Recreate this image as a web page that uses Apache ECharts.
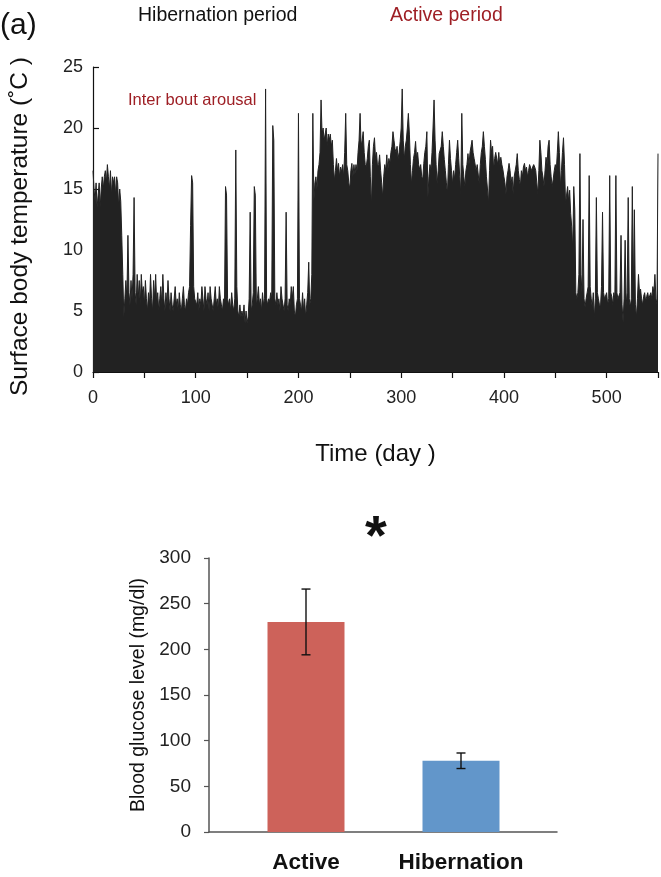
<!DOCTYPE html>
<html>
<head>
<meta charset="utf-8">
<script src="https://cdn.jsdelivr.net/npm/echarts@6/dist/echarts.min.js"></script>
<style>
html,body{margin:0;padding:0;background:#fff;}
#chart{width:661px;height:877px;}
</style>
</head>
<body>
<div id="chart"></div>
<script>
// ---- Panel (a): surface body temperature per day (days 0..550) ----
var tempDays0 = [16.5,15,14,15.5,13.5,14.5,15.5,13.5,15,16, 15,16,16.5,15.5,17,16,15,16.5,14.5,16,
  15.5,16,14.5,16,15.5,13.5,15,14,11.2,8, 4.5,6,7.5,6,11.2,6.5,5.5,7.5,6,8,
  14.3,6.5,5.5,8,6,7.5,5.5,8,6.5,7, 5.5,7.5,6,5,6.5,5.5,8,6,5,7.5,
  6,8,5.5,6.5,5,6,7,5.5,8,6, 5,6.5,5.5,7.5,6,5,6.5,5.5,5,6,
  7,5.5,6,5,6.5,5.5,5,6,7,5.5, 5,6,5.5,6.5,7,12,16.1,15.5,7,6];
var tempDays100 = [6,5.5,6.5,5,6,5.5,7,6,5,7, 6,5.5,6.5,5,7,6,5.5,5,6,7,
  5.5,6,5,7,6,5.5,5,6,5.5,15.2, 14.5,6,5.5,6,5,6.5,5.5,5,6,18.2,
  7,5,4.5,5.5,4.5,5,4.5,5.5,4,5, 4,4.5,6,13.1,5,5.5,6.5,15.2,14.5,5.5,
  6,7,5.5,6,5,6.5,5.5,6,23.2,6, 5.5,6,5.8,6.5,6,20.2,19,6,5.5,6.5,
  5.5,6,5,7,6,5.5,5,6,13.1,5.5, 5,6,5.5,7,6,7,5,4.5,5.5,6];
var tempDays200 = [21.2,6,5.5,5,6.5,5,6,4.5,5.5,6.5, 9,5.5,6,8,21.2,14,15.5,16,15,16.5,
  17,18,22.3,19.5,20,19,19.5,20,18.5,19.5, 19,19.5,18.5,19,17,15.7,16.5,17.5,16.5,17.1,
  16,16.8,16.4,17,16,18,21.2,17,16.5,15.5, 15,16.5,17.1,16,17,16.2,17,16.5,18,19,
  21.2,18.5,19,19.7,18,17,16.8,17.5,18.5,19, 16,13.5,17,18.5,19.2,17.5,18,16.8,17,17.8,
  16.5,15.5,14.3,16,17,16.5,17.8,16.5,17.5,17.1, 18,18.5,19.7,19,18.3,18,18.5,17.5,18,18.9];
var tempDays300 = [20,23.2,19,17.4,18.5,19,20,21.2,19.5,17, 15.4,16.5,17.5,18,18.9,17.5,18,17,16.6,17,
  16,15.8,17.1,18,18.5,19.7,14.3,16,17,16.6, 18,20,22.3,19,17,15.4,16.5,17.9,18,18.5,
  19.7,18.5,17.4,16.5,15.5,14.6,17,19,17.5,16.5, 15.4,16.5,15.8,17,18,19,17.5,16,14.6,21.2,
  17,16,15.2,16.5,17,17.9,17,18,18.5,19, 18,17.5,17.4,16.5,17,17.1,15.4,17,18,18.5,
  19.7,18.5,17.4,16,15,13.8,16.5,19,18,18.5, 16.6,17.5,18,17.9,17,18,17,17.6,17,16.6];
var tempDays400 = [16,15.5,14.6,16,16.5,17.1,16.5,15.5,16,14.6, 16,16.5,17,17.9,16.5,15.8,15.2,16.5,16,16.8,
  17.1,16.5,16.8,16,16.5,17,17.1,16.5,16.8,17, 16.8,16.5,15.5,14.6,16.5,19,18,16.5,16,15.2,
  16.5,17.6,17,18.5,19,17,16,15.2,15.8,16.5, 17,16.5,18,19.7,18,15.2,16.5,18,19.2,17,
  13.8,14.5,15.2,14,14.9,13,11.9,10,15.2,13.3, 6.5,6,6.5,8,17.9,8,6.5,12.5,6,5.3,
  6,6.5,7,16.1,7,6,5.3,6.5,4.4,6, 14.3,6.5,6,5.5,5.3,7,13.1,6.5,6,6];
var tempDays500 = [6.5,5.5,6,16.1,6.5,6.2,5.5,6.5,6,16.1, 6.5,6,5.9,6.5,11.2,5.5,4.1,6,10.8,5.5,
  6.5,14.3,6,5.3,6,15.2,6.5,13.3,5.5,4.5, 6,8,6.5,6.8,6,5.5,6.2,6.5,5.8,6.2,
  6.5,6,5.9,6.5,6,7,6.5,8,6,5.6, 17.9];
var temperature = [].concat(tempDays0, tempDays100, tempDays200, tempDays300, tempDays400, tempDays500);

// ---- Panel (b): blood glucose ----
var glucoseCategories = ['Active', 'Hibernation'];
var glucoseMean = [230, 78];
var glucoseErr = [36, 8.5];
var glucoseColors = ['#cd625a', '#6296ca'];

var tempTicks = [0, 5, 10, 15, 20, 25];

var FONT = 'Liberation Sans, Arial, sans-serif';
var chart = echarts.init(document.getElementById('chart'), null, {renderer: 'canvas'});

var tempData = temperature.map(function (v, i) { return [i, v]; });
var errData = glucoseMean.map(function (m, i) { return [i, m - glucoseErr[i], m + glucoseErr[i]]; });

var option = {
  backgroundColor: '#fff',
  animation: false,
  title: [
    {text: '(a)', left: 0, top: 11, padding: 0, textStyle: {fontFamily: FONT, fontSize: 30, fontWeight: 'normal', color: '#111'}},
    {text: 'Hibernation period', left: 138, top: 6, padding: 0, textStyle: {fontFamily: FONT, fontSize: 19.5, fontWeight: 'normal', color: '#111'}},
    {text: 'Active period', left: 390, top: 6, padding: 0, textStyle: {fontFamily: FONT, fontSize: 19.5, fontWeight: 'normal', color: '#9e1f25'}},
    {text: 'Inter bout arousal', left: 128, top: 92, padding: 0, textStyle: {fontFamily: FONT, fontSize: 16.5, fontWeight: 'normal', color: '#9e1f25'}},
    {text: '*', left: 376, top: 511, padding: 0, textAlign: 'center', textStyle: {fontFamily: FONT, fontSize: 56, fontWeight: 'bold', color: '#111'}}
  ],
  grid: [
    {left: 92, top: 67, width: 566, height: 305},
    {left: 209, top: 558, width: 348, height: 274},
    {left: 228.5, top: 558, width: 310, height: 274}
  ],
  xAxis: [
    {
      type: 'value', gridIndex: 0, min: 0, max: 550, interval: 50,
      name: 'Time (day )', nameLocation: 'middle', nameGap: 70,
      nameTextStyle: {fontFamily: FONT, fontSize: 24, color: '#111'},
      axisLine: {lineStyle: {color: '#111', width: 1.2}},
      axisTick: {show: true, inside: false, length: 6, lineStyle: {color: '#111', width: 1.2}},
      axisLabel: {fontFamily: FONT, fontSize: 18, color: '#222', margin: 17,
        formatter: function (v) { return v % 100 === 0 ? String(v) : ''; }},
      splitLine: {show: false}
    },
    {
      type: 'value', gridIndex: 1, min: 0, max: 1,
      axisLine: {show: true, lineStyle: {color: '#555', width: 1.5}},
      axisTick: {show: false}, axisLabel: {show: false}, splitLine: {show: false}
    },
    {
      type: 'category', gridIndex: 2, data: glucoseCategories,
      axisLine: {show: false}, axisTick: {show: false},
      axisLabel: {interval: 0, hideOverlap: false, fontFamily: FONT, fontSize: 22.5, fontWeight: 'bold', color: '#111', margin: 19}
    }
  ],
  yAxis: [
    {
      type: 'value', gridIndex: 0, min: tempTicks[0], max: tempTicks[tempTicks.length - 1], interval: 5,
      name: 'Surface body temperature (˚C )', nameLocation: 'middle', nameGap: 60,
      nameTextStyle: {fontFamily: FONT, fontSize: 24.5, color: '#111', padding: [0, 14, 0, 0]},
      axisLine: {show: true, lineStyle: {color: '#111', width: 1.2}},
      axisTick: {show: true, inside: true, length: 6, lineStyle: {color: '#111', width: 1.2}},
      axisLabel: {fontFamily: FONT, fontSize: 18, color: '#222', margin: 10},
      splitLine: {show: false}
    },
    {
      type: 'value', gridIndex: 1, min: 0, max: 300, interval: 50,
      name: 'Blood glucose level (mg/dl)', nameLocation: 'middle', nameGap: 58,
      nameTextStyle: {fontFamily: FONT, fontSize: 19.5, color: '#111'},
      axisLine: {show: true, lineStyle: {color: '#555', width: 1.5}},
      axisTick: {show: true, inside: false, length: 5, lineStyle: {color: '#555', width: 1.2}},
      axisLabel: {fontFamily: FONT, fontSize: 19, color: '#222', margin: 18},
      splitLine: {show: false}
    },
    {
      type: 'value', gridIndex: 2, min: 0, max: 300, show: false, splitLine: {show: false}
    }
  ],
  series: [
    {
      type: 'line', xAxisIndex: 0, yAxisIndex: 0, data: tempData,
      showSymbol: false, symbol: 'none',
      lineStyle: {color: '#222', width: 1},
      areaStyle: {color: '#222', opacity: 1},
      z: 2
    },
    {
      type: 'bar', xAxisIndex: 2, yAxisIndex: 2, barWidth: 77,
      data: glucoseMean.map(function (v, i) { return {value: v, itemStyle: {color: glucoseColors[i]}}; }),
      z: 2
    },
    {
      type: 'custom', xAxisIndex: 2, yAxisIndex: 2, data: errData, z: 5,
      renderItem: function (params, api) {
        var x = api.value(0);
        var lo = api.coord([x, api.value(1)]);
        var hi = api.coord([x, api.value(2)]);
        var hw = 4.5;
        var st = {stroke: '#111', lineWidth: 1.4};
        return {
          type: 'group',
          children: [
            {type: 'line', shape: {x1: hi[0], y1: hi[1], x2: lo[0], y2: lo[1]}, style: st},
            {type: 'line', shape: {x1: hi[0] - hw, y1: hi[1], x2: hi[0] + hw, y2: hi[1]}, style: st},
            {type: 'line', shape: {x1: lo[0] - hw, y1: lo[1], x2: lo[0] + hw, y2: lo[1]}, style: st}
          ]
        };
      }
    }
  ]
};
chart.setOption(option);
</script>
</body>
</html>
